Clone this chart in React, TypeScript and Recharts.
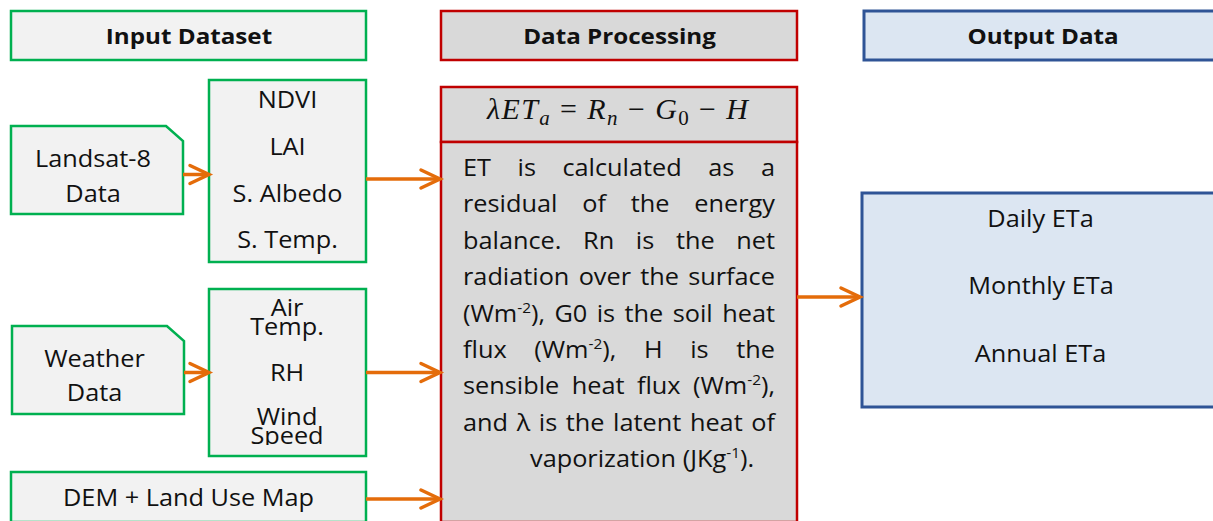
import React from 'react';
import { ScatterChart, Scatter, XAxis, YAxis, ReferenceArea, ReferenceLine } from 'recharts';

const CHART_W = 1213;
const CHART_H = 521;

// ---------- data ----------
const headerBoxes = [
  { group: 'input', x1: 11, x2: 366, y1: 11, y2: 60 },
  { group: 'process', x1: 441, x2: 797, y1: 11, y2: 60 },
  { group: 'output', x1: 864, x2: 1230, y1: 11, y2: 60 },
];
const inputBoxes = [
  { group: 'input', x1: 11, x2: 183, y1: 126, y2: 214, folded: true },
  { group: 'input', x1: 209, x2: 366, y1: 80, y2: 262, folded: false },
  { group: 'input', x1: 12, x2: 184, y1: 326, y2: 414, folded: true },
  { group: 'input', x1: 209, x2: 366, y1: 289, y2: 456, folded: false },
  { group: 'input', x1: 11, x2: 366, y1: 472, y2: 522, folded: false },
];
const processBoxes = [
  { group: 'process', x1: 441, x2: 797, y1: 87, y2: 142 },
  { group: 'process', x1: 441, x2: 797, y1: 142, y2: 522 },
];
const outputBoxes = [{ group: 'output', x1: 862, x2: 1230, y1: 193, y2: 407 }];

const headerLabels = [
  { x: 189, y: 36, text: 'Input Dataset' },
  { x: 619.5, y: 36, text: 'Data Processing' },
  { x: 1043, y: 36, text: 'Output Data' },
];
const inputLabels = [
  { x: 93, y: 158.5, text: 'Landsat-8' },
  { x: 93, y: 193.5, text: 'Data' },
  { x: 287.5, y: 100, text: 'NDVI' },
  { x: 287.5, y: 147, text: 'LAI' },
  { x: 287.5, y: 193.5, text: 'S. Albedo' },
  { x: 287.5, y: 240, text: 'S. Temp.' },
  { x: 94.5, y: 359, text: 'Weather' },
  { x: 94.5, y: 393, text: 'Data' },
  { x: 287, y: 372.5, text: 'RH' },
  { x: 188.5, y: 497.5, text: 'DEM + Land Use Map' },
];
// wrapped labels inside the weather-variables box (first line centre given)
const wrappedLabels = [
  { x: 287, y: 307.5, text: 'Air\nTemp.' },
  { x: 287, y: 416.5, text: 'Wind\nSpeed' },
];
const outputLabels = [
  { x: 1040.5, y: 218.5, text: 'Daily ETa' },
  { x: 1041, y: 286, text: 'Monthly ETa' },
  { x: 1040.5, y: 354, text: 'Annual ETa' },
];
const bodyLines = [
  { x: 463, right: 775, y: 167.8, text: 'ET is calculated as a', align: 'justify' },
  { x: 463, right: 775, y: 204.2, text: 'residual of the energy', align: 'justify' },
  { x: 463, right: 775, y: 240.6, text: 'balance. Rn is the net', align: 'justify' },
  { x: 463, right: 775, y: 277, text: 'radiation over the surface', align: 'justify' },
  { x: 463, right: 775, y: 313.4, text: '(Wm^-2^), G0 is the soil heat', align: 'justify' },
  { x: 463, right: 775, y: 349.8, text: 'flux (Wm^-2^), H is the', align: 'justify' },
  { x: 463, right: 775, y: 386.2, text: 'sensible heat flux (Wm^-2^),', align: 'justify' },
  { x: 463, right: 775, y: 422.6, text: 'and λ is the latent heat of', align: 'justify' },
  { x: 530, right: 775, y: 459, text: 'vaporization (JKg^-1^).', align: 'left' },
];
const formulaPoint = [{ x: 487, y: 110, width: 261 }];
const formulaParts = [
  { t: 'λET', italic: true, sub: false },
  { t: 'a', italic: true, sub: true },
  { t: ' =  ', italic: false, sub: false },
  { t: 'R', italic: true, sub: false },
  { t: 'n', italic: true, sub: true },
  { t: ' − ', italic: false, sub: false },
  { t: 'G', italic: true, sub: false },
  { t: '0', italic: false, sub: true },
  { t: ' − ', italic: false, sub: false },
  { t: 'H', italic: true, sub: false },
];
const arrows = [
  { x1: 183, y1: 174.5, x2: 210, y2: 174.5 },
  { x1: 366, y1: 179, x2: 441, y2: 179 },
  { x1: 184, y1: 372.5, x2: 210, y2: 372.5 },
  { x1: 366, y1: 372.5, x2: 441, y2: 372.5 },
  { x1: 366, y1: 499, x2: 441, y2: 499 },
  { x1: 797, y1: 297, x2: 861, y2: 297 },
];

// ---------- styles ----------
const COLORS: Record<string, { stroke: string; fill: string }> = {
  input: { stroke: '#00B050', fill: '#F2F2F2' },
  process: { stroke: '#C00000', fill: '#D9D9D9' },
  output: { stroke: '#2F5496', fill: '#DCE6F2' },
};
const ARROW = '#E46C0A';
const FONT = '"Open Sans", sans-serif';
const STRETCH = 1.1;
const LABEL_SIZE = 23;
const HEADER_SIZE = 22;
const BODY_SIZE = 23;
const SUP_SIZE = 14;
const TIGHT_GAP = 19.5;
const TEXT_INSET = 11; // text area inset inside a box (bottom)
const TEXT = '#111111';

let ctx: CanvasRenderingContext2D | null = null;
function measure(text: string, size: number, weight = 'normal'): number {
  if (!ctx) {
    const c = document.createElement('canvas');
    ctx = c.getContext('2d');
  }
  if (!ctx) return text.length * size * 0.5;
  ctx.font = `${weight} ${size}px "Open Sans"`;
  return ctx.measureText(text).width;
}
function parseWord(w: string) {
  return w
    .split('^')
    .map((t, i) => ({ t, sup: i % 2 === 1 }))
    .filter((s) => s.t.length > 0);
}
function wordWidth(w: string) {
  return parseWord(w).reduce((a, s) => a + measure(s.t, s.sup ? SUP_SIZE : BODY_SIZE), 0) * STRETCH;
}

function boxShape(group: string, folded: boolean, strokeWidth = 2.5) {
  return (p: any) => {
    const { x, y, width, height } = p;
    const c = COLORS[group];
    if (folded) {
      const d = `M${x},${y} L${x + width - 17},${y} L${x + width},${y + 15} L${x + width},${y + height} L${x},${y + height} Z`;
      return <path d={d} fill={c.fill} stroke={c.stroke} strokeWidth={strokeWidth} />;
    }
    return <rect x={x} y={y} width={width} height={height} fill={c.fill} stroke={c.stroke} strokeWidth={strokeWidth} />;
  };
}

function arrowShape(p: any) {
  const { x1, y1, x2, y2 } = p;
  return (
    <g>
      <line x1={x1} y1={y1} x2={x2 - 2} y2={y2} stroke={ARROW} strokeWidth={3.5} />
      <polyline
        points={`${x2 - 20},${y2 - 9} ${x2 - 1},${y2} ${x2 - 20},${y2 + 9}`}
        fill="none"
        stroke={ARROW}
        strokeWidth={3.5}
        strokeLinecap="round"
        strokeLinejoin="miter"
      />
    </g>
  );
}

function centerLabel(size: number, weight: string) {
  return (p: any) => {
    const { cx, cy, payload } = p;
    return (
      <text
        transform={`translate(${cx},${cy + size * 0.357}) scale(${STRETCH},1)`}
        textAnchor="middle"
        fontFamily={FONT}
        fontSize={size}
        fontWeight={weight}
        fill={TEXT}
      >
        {payload.text}
      </text>
    );
  };
}

// the weather-variables box clips its overflowing text at its inner bottom edge
const metBox = inputBoxes[3];

function wrappedLabel(p: any) {
  const { cx, cy, payload, yAxis } = p;
  const lines: string[] = payload.text.split('\n');
  const clipId = `clip-wrap-${Math.round(cx)}-${Math.round(cy)}`;
  const base = cy + LABEL_SIZE * 0.357;
  const scaleY = yAxis && yAxis.scale ? yAxis.scale : null;
  const boxTop = scaleY ? scaleY(metBox.y1) : metBox.y1;
  const boxBottom = scaleY ? scaleY(metBox.y2) : metBox.y2;
  const clipBottom = boxBottom - TEXT_INSET;
  return (
    <g>
      <defs>
        <clipPath id={clipId} clipPathUnits="userSpaceOnUse">
          <rect x={cx - 80} y={boxTop} width={160} height={clipBottom - boxTop} />
        </clipPath>
      </defs>
      <g clipPath={`url(#${clipId})`}>
        <text
          transform={`translate(${cx},${base}) scale(${STRETCH},1)`}
          textAnchor="middle"
          fontFamily={FONT}
          fontSize={LABEL_SIZE}
          fill={TEXT}
        >
          {lines.map((l, i) => (
            <tspan key={i} x={0} dy={i === 0 ? 0 : TIGHT_GAP}>
              {l}
            </tspan>
          ))}
        </text>
      </g>
    </g>
  );
}

function bodyLineShape(p: any) {
  const { cx, cy, payload } = p;
  const words: string[] = payload.text.split(' ');
  const widths = words.map(wordWidth);
  const total = widths.reduce((a, b) => a + b, 0);
  const space = measure(' ', BODY_SIZE) * STRETCH;
  let gap = space;
  if (payload.align === 'justify' && words.length > 1) {
    gap = Math.max(space * 0.5, (payload.right - payload.x - total) / (words.length - 1));
  }
  const base = cy + BODY_SIZE * 0.357;
  let x = cx;
  return (
    <g>
      {words.map((w, i) => {
        const segs = parseWord(w);
        let shift = 0;
        const el = (
          <text
            key={i}
            transform={`translate(${x},${base}) scale(${STRETCH},1)`}
            fontFamily={FONT}
            fontSize={BODY_SIZE}
            fill={TEXT}
          >
            {segs.map((s, j) => {
              const target = s.sup ? -9 : 0;
              const dy = target - shift;
              shift = target;
              return (
                <tspan key={j} dy={dy} fontSize={s.sup ? SUP_SIZE : BODY_SIZE}>
                  {s.t}
                </tspan>
              );
            })}
          </text>
        );
        x += widths[i] + gap;
        return el;
      })}
    </g>
  );
}

function formulaShape(p: any) {
  const { cx, cy, payload } = p;
  let shift = 0;
  return (
    <text
      x={cx}
      y={cy + 9}
      fontFamily='"Liberation Serif", "DejaVu Serif", serif'
      fontSize={30}
      fill={TEXT}
      textLength={payload.width}
      lengthAdjust="spacing"
    >
      {formulaParts.map((s, j) => {
        const target = s.sub ? 6 : 0;
        const dy = target - shift;
        shift = target;
        return (
          <tspan key={j} dy={dy} fontStyle={s.italic ? 'italic' : 'normal'} fontSize={s.sub ? 21 : 30}>
            {s.t}
          </tspan>
        );
      })}
    </text>
  );
}

export default function App() {
  return (
    <div style={{ position: 'absolute', left: 0, top: 0, width: CHART_W, height: CHART_H, background: '#fff' }}>
      <ScatterChart width={CHART_W} height={CHART_H} margin={{ top: 0, right: 0, bottom: 0, left: 0 }}>
        <XAxis type="number" dataKey="x" domain={[0, CHART_W]} hide allowDataOverflow />
        <YAxis type="number" dataKey="y" domain={[0, CHART_H]} reversed hide allowDataOverflow />
        {[...headerBoxes, ...inputBoxes, ...processBoxes, ...outputBoxes].map((b: any, i) => (
          <ReferenceArea
            key={`box-${i}`}
            x1={b.x1}
            x2={b.x2}
            y1={b.y1}
            y2={b.y2}
            ifOverflow="visible"
            shape={boxShape(b.group, !!b.folded, b.group === 'output' ? 3 : 2.5)}
          />
        ))}
        {arrows.map((a, i) => (
          <ReferenceLine
            key={`arrow-${i}`}
            segment={[
              { x: a.x1, y: a.y1 },
              { x: a.x2, y: a.y2 },
            ]}
            ifOverflow="visible"
            shape={arrowShape}
          />
        ))}
        <Scatter data={headerLabels} isAnimationActive={false} shape={centerLabel(HEADER_SIZE, 'bold')} />
        <Scatter data={inputLabels} isAnimationActive={false} shape={centerLabel(LABEL_SIZE, 'normal')} />
        <Scatter data={wrappedLabels} isAnimationActive={false} shape={wrappedLabel} />
        <Scatter data={outputLabels} isAnimationActive={false} shape={centerLabel(LABEL_SIZE, 'normal')} />
        <Scatter data={bodyLines} isAnimationActive={false} shape={bodyLineShape} />
        <Scatter data={formulaPoint} isAnimationActive={false} shape={formulaShape} />
      </ScatterChart>
    </div>
  );
}
